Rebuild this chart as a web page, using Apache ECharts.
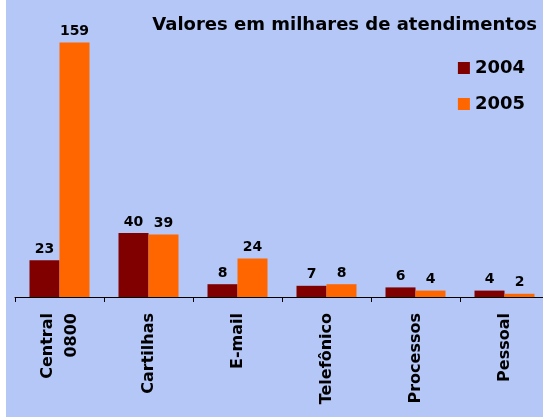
<!DOCTYPE html>
<html>
<head>
<meta charset="utf-8">
<script src="https://cdn.jsdelivr.net/npm/echarts@6/dist/echarts.min.js"></script>
<style>
  html, body { margin: 0; padding: 0; background: #fff; overflow: hidden; }
  #main { position: absolute; left: 6px; top: 0; width: 543px; height: 417px; background: #b4c7f7; }
</style>
</head>
<body>
<div id="main"></div>
<script>
var categories = ['Central\n0800', 'Cartilhas', 'E-mail', 'Telefônico', 'Processos', 'Pessoal']
var values2004 = [23, 40, 8, 7, 6, 4]
var values2005 = [159, 39, 24, 8, 4, 2]

var font = 'DejaVu Sans'
var chart = echarts.init(document.getElementById('main'))
var option = {
  animation: false,
  textStyle: { fontFamily: font },
  title: {
    text: 'Valores em milhares de atendimentos',
    right: 7,
    top: 11,
    textStyle: { fontSize: 18, fontWeight: 'bold', color: '#000', fontFamily: font }
  },
  legend: {
    orient: 'vertical',
    right: 19,
    top: 54,
    itemWidth: 12,
    itemHeight: 12,
    itemGap: 18,
    icon: 'rect',
    data: ['2004', '2005'],
    textStyle: { fontSize: 18, fontWeight: 'bold', color: '#000', fontFamily: font }
  },
  grid: { left: 9, right: 0, top: 9, bottom: 120 },
  xAxis: {
    type: 'category',
    data: categories,
    axisLine: { lineStyle: { color: '#000', width: 1 } },
    axisTick: { show: true, length: 5, lineStyle: { color: '#000' } },
    axisLabel: {
      rotate: 90,
      margin: 16,
      interval: 0,
      fontSize: 16,
      fontWeight: 'bold',
      lineHeight: 24,
      color: '#000',
      fontFamily: font
    }
  },
  yAxis: {
    type: 'value',
    min: 0,
    max: 180,
    show: false,
    splitLine: { show: false }
  },
  series: [
    {
      name: '2004',
      type: 'bar',
      data: values2004,
      barWidth: 30,
      barGap: '0%',
      itemStyle: { color: '#800000' },
      label: { show: true, position: 'top', distance: 4, fontSize: 14, fontWeight: 'bold', color: '#000', fontFamily: font }
    },
    {
      name: '2005',
      type: 'bar',
      data: values2005,
      barWidth: 30,
      itemStyle: { color: '#ff6600' },
      label: { show: true, position: 'top', distance: 4, fontSize: 14, fontWeight: 'bold', color: '#000', fontFamily: font }
    }
  ]
}
chart.setOption(option)
</script>
</body>
</html>
